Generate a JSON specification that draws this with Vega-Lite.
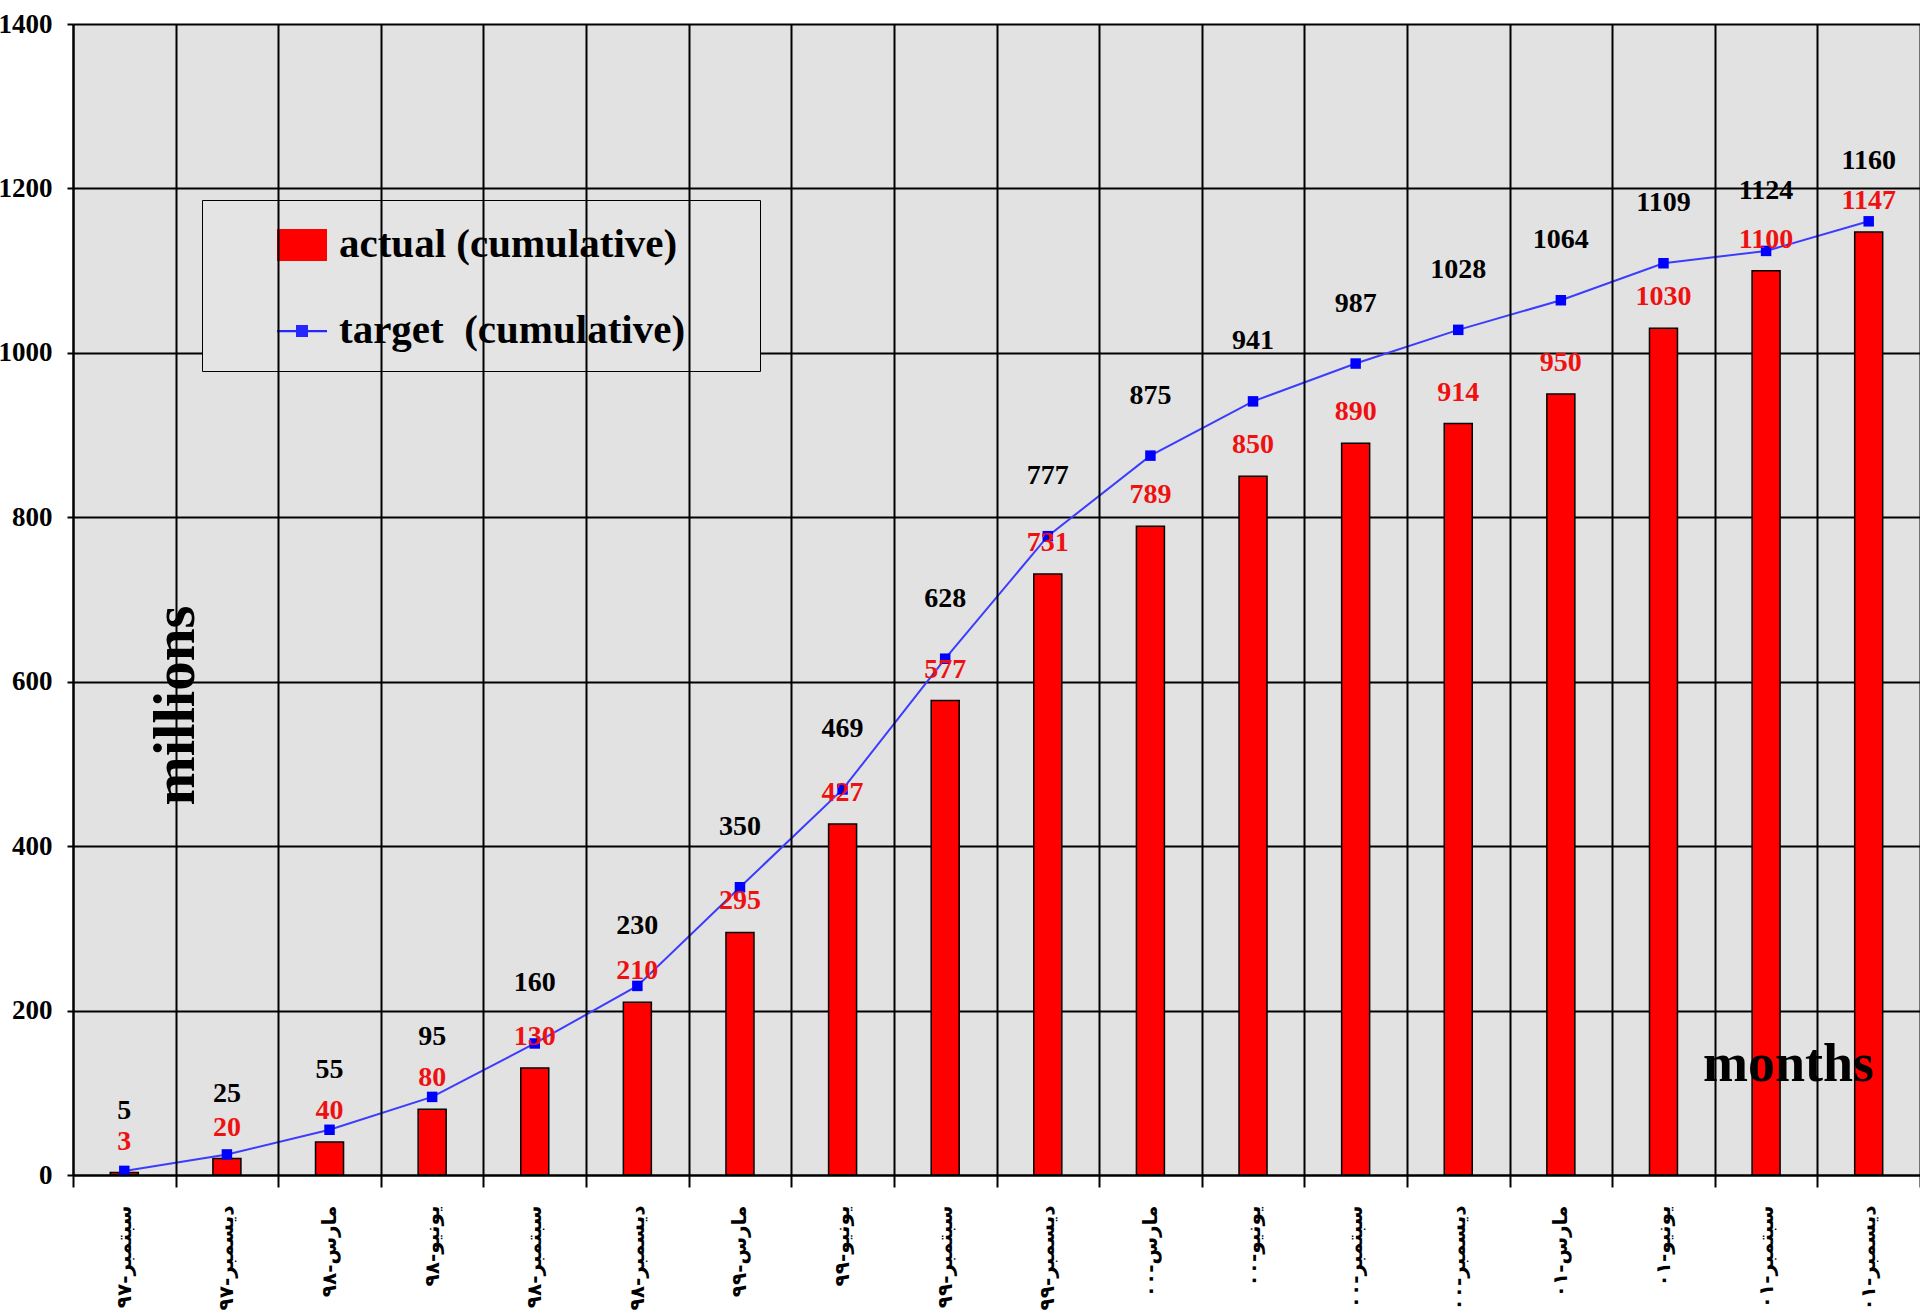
{
  "$schema": "https://vega.github.io/schema/vega-lite/v6.json",
  "width": 1847,
  "height": 1151,
  "autosize": "none",
  "padding": {"left": 73, "top": 24, "right": 0, "bottom": 141},
  "background": "white",
  "config": {"view": {"fill": "#e2e2e2", "stroke": null}, "font": "Liberation Serif"},
  "data": {
    "values": [
      {"month": "سبتمبر-٩٧", "actual": 3, "target": 5},
      {"month": "ديسمبر-٩٧", "actual": 20, "target": 25},
      {"month": "مارس-٩٨", "actual": 40, "target": 55},
      {"month": "يونيو-٩٨", "actual": 80, "target": 95},
      {"month": "سبتمبر-٩٨", "actual": 130, "target": 160},
      {"month": "ديسمبر-٩٨", "actual": 210, "target": 230},
      {"month": "مارس-٩٩", "actual": 295, "target": 350},
      {"month": "يونيو-٩٩", "actual": 427, "target": 469},
      {"month": "سبتمبر-٩٩", "actual": 577, "target": 628},
      {"month": "ديسمبر-٩٩", "actual": 731, "target": 777},
      {"month": "مارس-٠٠", "actual": 789, "target": 875},
      {"month": "يونيو-٠٠", "actual": 850, "target": 941},
      {"month": "سبتمبر-٠٠", "actual": 890, "target": 987},
      {"month": "ديسمبر-٠٠", "actual": 914, "target": 1028},
      {"month": "مارس-٠١", "actual": 950, "target": 1064},
      {"month": "يونيو-٠١", "actual": 1030, "target": 1109},
      {"month": "سبتمبر-٠١", "actual": 1100, "target": 1124},
      {"month": "ديسمبر-٠١", "actual": 1147, "target": 1160}
    ]
  },
  "encoding": {
    "x": {
      "field": "month",
      "type": "ordinal",
      "sort": null,
      "scale": {"paddingInner": 0, "paddingOuter": 0},
      "axis": {
        "title": "months",
        "titleX": 1715,
        "titleY": -95,
        "titleAlign": "center",
        "titleBaseline": "alphabetic",
        "titleFont": "Liberation Serif",
        "titleFontSize": 54,
        "titleFontWeight": "bold",
        "titleColor": "black",
        "zindex": 1,
        "tickBand": "extent",
        "grid": true,
        "gridColor": "black",
        "gridWidth": 2,
        "gridOpacity": 1,
        "domainColor": "black",
        "domainWidth": 2,
        "tickColor": "black",
        "tickWidth": 2,
        "tickSize": 12,
        "labelAngle": 270,
        "labelFont": "DejaVu Sans",
        "labelFontWeight": "bold",
        "labelFontSize": 20,
        "labelColor": "black",
        "labelPadding": 18,
        "labelLimit": 300
      }
    }
  },
  "layer": [
    {
      "mark": {"type": "bar", "width": 28, "fill": "#ff0000", "stroke": "black", "strokeWidth": 1.5},
      "encoding": {
        "y": {
          "field": "actual",
          "type": "quantitative",
          "title": "millions",
          "scale": {"domain": [0, 1400], "nice": false},
          "axis": {
            "values": [0, 200, 400, 600, 800, 1000, 1200, 1400],
            "format": "d",
            "grid": true,
            "gridColor": "black",
            "gridWidth": 2,
            "gridOpacity": 1,
            "domainColor": "black",
            "domainWidth": 2,
            "tickColor": "black",
            "tickWidth": 2,
            "tickSize": 6,
            "labelFont": "Liberation Serif",
            "labelFontWeight": "bold",
            "labelFontSize": 27,
            "labelColor": "black",
            "labelPadding": 15,
            "title": "millions",
            "titleAngle": 270,
            "titleX": 120,
            "titleY": 681,
            "titleAlign": "center",
            "titleBaseline": "alphabetic",
            "titleFont": "Liberation Serif",
            "titleFontSize": 59,
            "titleFontWeight": "bold",
            "titleColor": "black"
          }
        }
      }
    },
    {
      "mark": {"type": "line", "strokeWidth": 2, "color": "#3c3cff"},
      "encoding": {
        "y": {"field": "target", "type": "quantitative", "title": "millions"}
      }
    },
    {
      "mark": {"type": "point", "shape": "square", "filled": true, "size": 110, "color": "#0000ff", "opacity": 1},
      "encoding": {
        "y": {"field": "target", "type": "quantitative", "title": "millions"}
      }
    },
    {
      "mark": {"type": "point", "filled": true, "opacity": 0, "size": 10},
      "encoding": {
        "y": {"field": "actual", "type": "quantitative", "title": "millions"},
        "color": {
          "datum": "actual (cumulative)",
          "scale": {
            "domain": ["actual (cumulative)", "target \u00a0(cumulative)"],
            "range": ["#ff0000", "#2626ff"]
          },
          "legend": {
            "title": " ",
            "titleOrient": "right",
            "titlePadding": 55,
            "orient": "none",
            "legendX": 129,
            "legendY": 176,
            "fillColor": "#e4e4e4",
            "strokeColor": "black",
            "padding": 20,
            "symbolOffset": 55,
            "symbolSize": 2500,
            "symbolOpacity": 1,
            "symbolStrokeWidth": 0,
            "labelFont": "Liberation Serif",
            "labelFontWeight": "bold",
            "labelFontSize": 41,
            "labelColor": "black",
            "labelOffset": 12,
            "labelLimit": 1000,
            "rowPadding": 41
          }
        },
        "shape": {
          "datum": "actual (cumulative)",
          "scale": {
            "domain": ["actual (cumulative)", "target \u00a0(cumulative)"],
            "range": ["M-1,-0.64H1V0.64H-1Z", "M-1,-0.045H1V0.045H-1Z M-0.24,-0.24H0.24V0.24H-0.24Z"]
          },
          "legend": {
            "title": " ",
            "titleOrient": "right",
            "titlePadding": 55,
            "orient": "none",
            "legendX": 129,
            "legendY": 176,
            "fillColor": "#e4e4e4",
            "strokeColor": "black",
            "padding": 20,
            "symbolOffset": 55,
            "symbolSize": 2500,
            "symbolOpacity": 1,
            "symbolStrokeWidth": 0,
            "labelFont": "Liberation Serif",
            "labelFontWeight": "bold",
            "labelFontSize": 41,
            "labelColor": "black",
            "labelOffset": 12,
            "labelLimit": 1000,
            "rowPadding": 41
          }
        }
      }
    },
    {
      "mark": {"type": "text", "dy": -60, "font": "Liberation Serif", "fontWeight": "bold", "fontSize": 28, "color": "black", "baseline": "middle"},
      "encoding": {
        "y": {"field": "target", "type": "quantitative", "title": "millions"},
        "text": {"field": "target", "type": "quantitative"}
      }
    },
    {
      "mark": {"type": "text", "dy": -31, "font": "Liberation Serif", "fontWeight": "bold", "fontSize": 28, "color": "#ee1111", "baseline": "middle"},
      "encoding": {
        "y": {"field": "actual", "type": "quantitative", "title": "millions"},
        "text": {"field": "actual", "type": "quantitative"}
      }
    }
  ]
}
